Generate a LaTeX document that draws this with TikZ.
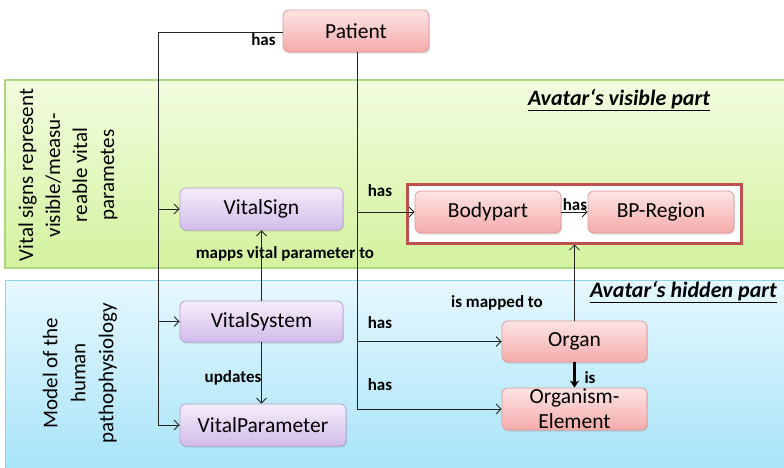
\documentclass[tikz,border=0pt]{standalone}
\usepackage{fontspec}
\setmainfont{Carlito}
\usetikzlibrary{arrows.meta,shadows}
\definecolor{pinkTop}{HTML}{FDE4E4}
\definecolor{pinkBot}{HTML}{F5ABAB}
\definecolor{pinkLine}{HTML}{DC9A98}
\definecolor{lilaTop}{HTML}{F4EDFB}
\definecolor{lilaBot}{HTML}{D3BCEA}
\definecolor{lilaLine}{HTML}{B7A0D2}
\definecolor{greenTop}{HTML}{F2FDDF}
\definecolor{greenBot}{HTML}{D3F29E}
\definecolor{greenLine}{HTML}{ADD67E}
\definecolor{blueTop}{HTML}{E6F8FE}
\definecolor{blueBot}{HTML}{A6E3F8}
\definecolor{blueLine}{HTML}{8FD4EE}
\definecolor{frameRed}{HTML}{C0504D}
\definecolor{ink}{HTML}{222222}
\tikzset{
  x=1pt, y=-1pt,
  entity/.style={rounded corners=6pt, draw=pinkLine, line width=0.8pt,
    top color=pinkTop, bottom color=pinkBot, text=black,
    font=\fontsize{21.5}{21.5}\selectfont, inner sep=0pt,
    drop shadow={shadow xshift=1pt, shadow yshift=-1.5pt, opacity=0.25}},
  vital/.style={entity, draw=lilaLine, top color=lilaTop, bottom color=lilaBot},
  conn/.style={draw=ink, line width=0.8pt},
  arr/.style={conn, -{Straight Barb[length=5pt,width=10pt,line width=0.8pt]}},
  lbl/.style={font=\fontsize{17}{17}\selectfont\bfseries, text=black, inner sep=0pt},
  side/.style={rotate=90, align=center, font=\fontsize{21}{27}\selectfont, inner sep=0pt},
  title/.style={font=\fontsize{22}{22}\selectfont\bfseries\itshape, inner sep=0pt}
}
\begin{document}
\begin{tikzpicture}
\useasboundingbox (0,0) rectangle (784,467);
\clip (0,0) rectangle (784,467);
% background bands
\path[fill=white] (0,0) rectangle (784,467);
\draw[draw=greenLine, line width=1.5pt, top color=greenTop, bottom color=greenBot]
  (5,80) rectangle (790,268);
\draw[draw=blueLine, line width=1pt, top color=blueTop, bottom color=blueBot]
  (5,280) rectangle (790,475);
% band captions
\node[side] (capvis) at (68,175) {Vital signs represent\\visible/measu-\\reable vital\\parametes};
\node[side, font=\fontsize{21}{28}\selectfont] (caphid) at (80,373) {Model of the\\human\\pathophysiology};
\node[title] (tvis) at (619,100) {\underline{Avatar‘s visible part}};
\node[title, anchor=east] (thid) at (777,292) {\underline{Avatar‘s hidden part}};
% frame around the visible body parts
\node[draw=frameRed, line width=3pt, fill=white, minimum width=334pt, minimum height=59pt,
  inner sep=0pt] (frame) at (574,213.5) {};
% nodes
\node[entity, minimum width=146pt, minimum height=42pt] (patient) at (356,31) {Patient};
\node[vital, minimum width=163pt, minimum height=42pt] (vsign) at (261.5,209) {VitalSign};
\node[vital, minimum width=163pt, minimum height=41pt] (vsys) at (261.5,321.5) {VitalSystem};
\node[vital, minimum width=166pt, minimum height=42pt] (vpar) at (263,425) {VitalParameter};
\node[entity, minimum width=146pt, minimum height=42pt] (bp) at (488,212) {Bodypart};
\node[entity, minimum width=146pt, minimum height=42pt] (bpr) at (661,212) {BP-Region};
\node[entity, minimum width=145pt, minimum height=41pt] (organ) at (574.5,341.5) {Organ};
\node[entity, minimum width=145pt, minimum height=42pt, align=center,
  font=\fontsize{21.5}{25}\selectfont] (oe) at (574.5,409) {Organism-\\Element};
% Patient -> vital model (left trunk)
\coordinate (trunk) at (158,32);
\draw[conn] (patient.west |- trunk) -- (trunk);
\draw[arr] (trunk) |- (vpar.west);
\draw[arr] (vsign.west -| trunk) -- (vsign.west);
\draw[arr] (vsys.west -| trunk) -- (vsys.west);
% Patient -> body (right trunk)
\coordinate (btrunk) at (357,52);
\draw[conn] (patient.south -| btrunk) -- (btrunk);
\draw[arr] (btrunk) |- (oe.west);
\draw[arr] (bp.west -| btrunk) -- (bp.west);
\draw[arr] (organ.west -| btrunk) -- (organ.west);
% remaining relations
\draw[arr] (vsys.north) -- (vsign.south);
\draw[arr] (vsys.south) -- (vsys.south |- vpar.north);
\draw[arr] (bp.east) -- (bpr.west);
\draw[arr] (organ.north) -- (organ.north |- frame.south);
\draw[draw=black, line width=2.2pt, -{Stealth[length=7pt,width=9pt]}] (organ.south) -- (oe.north);
% relation labels
\node[lbl] (lpat) at (263.5,40) {has};
\node[lbl] (lvs) at (380,191) {has};
\node[lbl] (lmap) at (285,254) {mapps vital parameter to};
\node[lbl] (lbp) at (575,205) {has};
\node[lbl] (lism) at (497,303) {is mapped to};
\node[lbl] (lorg) at (380,323) {has};
\node[lbl] (loe) at (380,385) {has};
\node[lbl] (lupd) at (233,378) {updates};
\node[lbl] (lis) at (590,378) {is};
\end{tikzpicture}
\end{document}
